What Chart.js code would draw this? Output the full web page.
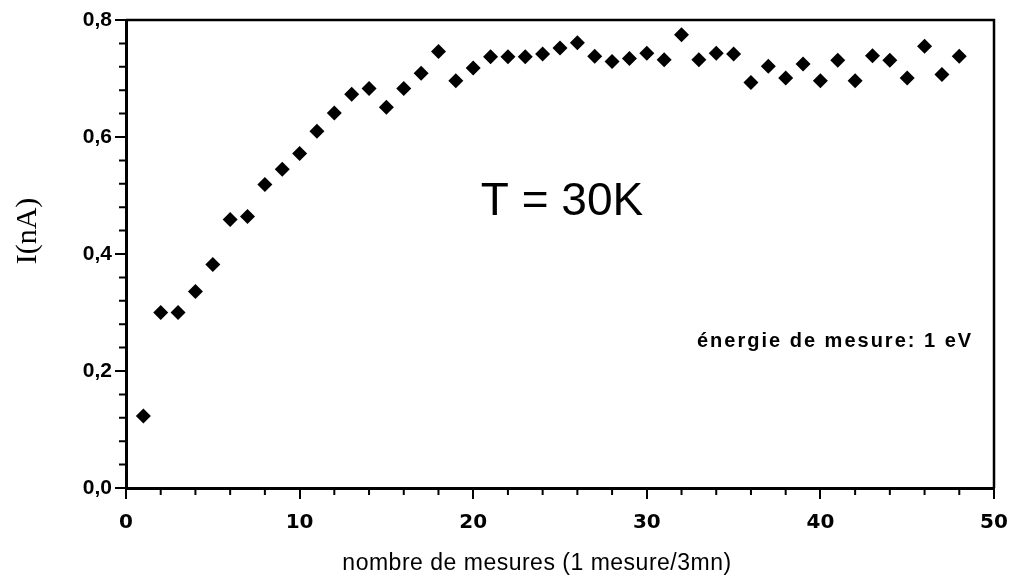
<!DOCTYPE html>
<html lang="fr">
<head>
<meta charset="UTF-8">
<title>I(nA) - T = 30K</title>
<script src="https://cdn.jsdelivr.net/npm/chart.js"></script>
<style>
  body { margin: 0; background: #fff; }
  #wrap { width: 1017px; height: 577px; }
</style>
</head>
<body>
<div id="wrap"><canvas id="chart" width="1017" height="577"></canvas></div>
<script>
// nombre de mesures (1 mesure / 3 mn)
var mesures = [1, 2, 3, 4, 5, 6, 7, 8, 9, 10, 11, 12, 13, 14, 15, 16,
    17, 18, 19, 20, 21, 22, 23, 24, 25, 26, 27, 28, 29, 30, 31, 32,
    33, 34, 35, 36, 37, 38, 39, 40, 41, 42, 43, 44, 45, 46, 47, 48];
// courant I en nA
var courant = [0.123, 0.300, 0.300, 0.336, 0.382, 0.459, 0.464, 0.519,
    0.545, 0.572, 0.610, 0.641, 0.673, 0.683, 0.651, 0.683,
    0.709, 0.746, 0.696, 0.718, 0.737, 0.737, 0.737, 0.742,
    0.752, 0.761, 0.738, 0.729, 0.734, 0.743, 0.732, 0.775,
    0.732, 0.743, 0.742, 0.693, 0.721, 0.701, 0.725, 0.696,
    0.731, 0.696, 0.739, 0.731, 0.701, 0.755, 0.707, 0.738];
var xTicks = [0, 10, 20, 30, 40, 50];
var yTicks = [0, 0.2, 0.4, 0.6, 0.8];

var points = mesures.map(function (m, i) { return { x: m, y: courant[i] }; });

// frame, minor ticks, titles and annotations
var decor = {
    id: 'decor',
    afterDraw: function (chart) {
        var ctx = chart.ctx;
        var a = chart.chartArea;
        var xs = chart.scales.x, ys = chart.scales.y;
        ctx.save();
        ctx.strokeStyle = '#000';
        ctx.lineWidth = 2.5;
        ctx.beginPath();
        ctx.moveTo(a.left, a.top);
        ctx.lineTo(a.right, a.top);
        ctx.lineTo(a.right, a.bottom);
        ctx.stroke();

        // minor ticks
        ctx.lineWidth = 2;
        ctx.beginPath();
        for (var v = 2; v < 50; v += 2) {
            if (v % 10 === 0) continue;
            var px = xs.getPixelForValue(v);
            ctx.moveTo(px, a.bottom);
            ctx.lineTo(px, a.bottom + 7);
        }
        for (var k = 1; k < 20; k++) {
            if (k % 5 === 0) continue;
            var py = ys.getPixelForValue(k * 0.04);
            ctx.moveTo(a.left, py);
            ctx.lineTo(a.left - 7, py);
        }
        ctx.stroke();

        ctx.fillStyle = '#000';
        // x title
        ctx.font = '23px "Liberation Sans", Arial, sans-serif';
        ctx.letterSpacing = '0.5px';
        ctx.textAlign = 'center';
        ctx.textBaseline = 'alphabetic';
        ctx.fillText('nombre de mesures (1 mesure/3mn)', 537, 570);

        // y title
        ctx.save();
        ctx.translate(28, 231);
        ctx.rotate(-Math.PI / 2);
        ctx.letterSpacing = '0px';
        ctx.font = '30px "Liberation Serif", "Times New Roman", serif';
        ctx.textBaseline = 'middle';
        ctx.fillText('I(nA)', 0, 0);
        ctx.restore();

        // annotations
        ctx.letterSpacing = '0px';
        ctx.font = '46px "Liberation Sans", Arial, sans-serif';
        ctx.textAlign = 'center';
        ctx.fillText('T = 30K', 562, 215);

        ctx.font = 'bold 20px "Liberation Sans", Arial, sans-serif';
        ctx.letterSpacing = '2px';
        ctx.textAlign = 'left';
        ctx.fillText('énergie de mesure: 1 eV', 697, 347);
        ctx.restore();
    }
};

new Chart(document.getElementById('chart'), {
    type: 'scatter',
    data: {
        datasets: [{
            label: 'I(nA)',
            data: points,
            pointStyle: 'rectRot',
            pointRadius: 7.5,
            pointHoverRadius: 7.5,
            backgroundColor: '#000',
            borderColor: '#000',
            borderWidth: 0
        }]
    },
    options: {
        responsive: false,
        animation: false,
        events: [],
        layout: { autoPadding: false, padding: { left: 0, top: 20, right: 23, bottom: 0 } },
        plugins: { legend: { display: false }, tooltip: { enabled: false } },
        scales: {
            x: {
                type: 'linear',
                min: 0, max: 50,
                afterFit: function (s) { s.height = 89; s.paddingLeft = 0; s.paddingRight = 0; },
                afterBuildTicks: function (s) { s.ticks = xTicks.map(function (v) { return { value: v }; }); },
                grid: { drawOnChartArea: false, drawTicks: true, tickLength: 11, color: '#000', lineWidth: 2 },
                border: { display: true, color: '#000', width: 3 },
                ticks: {
                    color: '#000', padding: 12, maxRotation: 0,
                    font: { family: '"DejaVu Sans", sans-serif', size: 20, weight: 'bold' }
                }
            },
            y: {
                type: 'linear',
                min: 0, max: 0.8,
                afterFit: function (s) { s.width = 126; s.paddingTop = 0; s.paddingBottom = 0; },
                afterBuildTicks: function (s) { s.ticks = yTicks.map(function (v) { return { value: v }; }); },
                grid: { drawOnChartArea: false, drawTicks: true, tickLength: 11, color: '#000', lineWidth: 2 },
                border: { display: true, color: '#000', width: 3 },
                ticks: {
                    color: '#000', padding: 3,
                    font: { family: '"Liberation Sans", Arial, sans-serif', size: 21, weight: 'bold' },
                    callback: function (v) { return v.toFixed(1).replace('.', ','); }
                }
            }
        }
    },
    plugins: [decor]
});
</script>
</body>
</html>
